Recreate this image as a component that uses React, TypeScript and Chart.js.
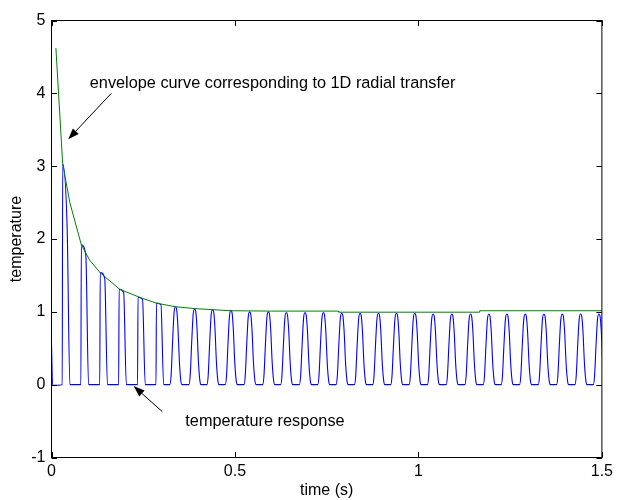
import React, { useEffect, useRef } from "react";
import { Chart, registerables } from "chart.js";

Chart.register(...registerables);

// ---- axes ----
const X_MIN = 0;
const X_MAX = 1.5;
const Y_MIN = -1;
const Y_MAX = 5;
const xTickValues = [0, 0.5, 1, 1.5];
const yTickValues = [-1, 0, 1, 2, 3, 4, 5];

// ---- envelope curve (green) ----
const envelopeTimes = [0.012, 0.0305, 0.05, 0.0813, 0.104, 0.134, 0.186, 0.24, 0.285, 0.338, 0.389, 0.438, 0.489, 0.6, 0.782, 0.783, 1.166, 1.167, 1.5];
const envelopeValues = [4.62, 3.03, 2.5, 1.92, 1.71, 1.53, 1.31, 1.2, 1.12, 1.07, 1.045, 1.03, 1.015, 1.01, 1.01, 0.995, 0.995, 1.015, 1.015];

// ---- temperature response (blue) ----
const startTimes = [0, 0.003];
const startValues = [0.57, -0.01];
// early, sharp pulses
const sharpPeakTimes = [0.0305, 0.0813, 0.1328, 0.1843, 0.2358, 0.286];
const sharpPeakValues = [3.03, 1.92, 1.54, 1.31, 1.2, 1.12];
const sharpTopEndValues = [2.12, 1.77, 1.46, 1.27, 1.17, 1.1];
// later, rounded pulses
const roundPeakTimes = [0.338, 0.39, 0.439, 0.489, 0.54, 0.591, 0.64, 0.691, 0.741, 0.791, 0.841, 0.891, 0.94, 0.99, 1.04, 1.091, 1.142, 1.192, 1.241, 1.291, 1.342, 1.392, 1.442, 1.492];
const roundPeakValues = [1.07, 1.04, 1.03, 1.02, 1.0, 1.0, 0.99, 0.99, 0.99, 0.98, 0.98, 0.98, 0.98, 0.98, 0.97, 0.97, 0.97, 0.97, 0.97, 0.97, 0.97, 0.97, 0.97, 0.97];
// pulse shape templates (time offset from peak, fraction)
const sharpOffsets = [-0.0013, 0, 0.0123, 0.0197];
const roundOffsets = [-0.0155, -0.012, -0.008, -0.004, 0, 0.003, 0.0065, 0.0105, 0.0145, 0.0175];
const roundFractions = [0, 0.12, 0.55, 0.92, 1, 0.97, 0.75, 0.3, 0.05, 0];

const FONT = '"Liberation Sans", Arial, Helvetica, sans-serif';

function buildResponse() {
  const pts: { x: number; y: number }[] = [];
  startTimes.forEach((t, i) => pts.push({ x: t, y: startValues[i] }));
  sharpPeakTimes.forEach((t, i) => {
    const vals = [0, sharpPeakValues[i], sharpTopEndValues[i], 0];
    sharpOffsets.forEach((o, j) => pts.push({ x: t + o, y: vals[j] }));
  });
  roundPeakTimes.forEach((t, i) => {
    roundOffsets.forEach((o, j) => pts.push({ x: t + o, y: roundFractions[j] * roundPeakValues[i] }));
  });
  return pts;
}

const envelopeData = envelopeTimes.map((t, i) => ({ x: t, y: envelopeValues[i] }));

// annotation layout (data coordinates)
const annotations = [
  { text: "envelope curve corresponding to 1D radial transfer", x: 0.1044, y: 4.14, tail: [0.163, 4.0], tip: [0.0456, 3.37] },
  { text: "temperature response", x: 0.3647, y: -0.5, tail: [0.302, -0.37], tip: [0.224, -0.02] },
];

const framePlugin = {
  id: "framePlugin",
  afterDatasetsDraw(chart: any) {
    const { ctx, chartArea } = chart;
    const xs = chart.scales.x;
    const ys = chart.scales.y;
    const { left, right, top, bottom } = chartArea;
    ctx.save();
    ctx.strokeStyle = "#000";
    ctx.lineWidth = 1;
    ctx.strokeRect(left, top, right - left, bottom - top);
    const tl = 5.5;
    ctx.beginPath();
    xTickValues.forEach((v) => {
      const px = Math.round(xs.getPixelForValue(v)) + 0.5;
      ctx.moveTo(px, bottom);
      ctx.lineTo(px, bottom - tl);
      ctx.moveTo(px, top);
      ctx.lineTo(px, top + tl);
    });
    yTickValues.forEach((v) => {
      const py = Math.round(ys.getPixelForValue(v)) + 0.5;
      ctx.moveTo(left, py);
      ctx.lineTo(left + tl, py);
      ctx.moveTo(right, py);
      ctx.lineTo(right - tl, py);
    });
    ctx.stroke();

    ctx.fillStyle = "#000";
    ctx.font = `16.3px ${FONT}`;
    ctx.textAlign = "left";
    ctx.textBaseline = "middle";
    annotations.forEach((a) => {
      ctx.fillText(a.text, xs.getPixelForValue(a.x), ys.getPixelForValue(a.y));
      const tx = xs.getPixelForValue(a.tail[0]);
      const ty = ys.getPixelForValue(a.tail[1]);
      const hx = xs.getPixelForValue(a.tip[0]);
      const hy = ys.getPixelForValue(a.tip[1]);
      const ang = Math.atan2(hy - ty, hx - tx);
      const len = 11;
      const hw = 4;
      const bx = hx - len * Math.cos(ang);
      const by = hy - len * Math.sin(ang);
      ctx.beginPath();
      ctx.moveTo(tx, ty);
      ctx.lineTo(bx, by);
      ctx.stroke();
      ctx.beginPath();
      ctx.moveTo(hx, hy);
      ctx.lineTo(bx + hw * Math.sin(ang), by - hw * Math.cos(ang));
      ctx.lineTo(bx - hw * Math.sin(ang), by + hw * Math.cos(ang));
      ctx.closePath();
      ctx.fill();
    });
    ctx.restore();
  },
};

export default function App() {
  const ref = useRef<HTMLCanvasElement | null>(null);
  useEffect(() => {
    if (!ref.current) return;
    const font = { family: FONT, size: 16 };
    const chart = new Chart(ref.current, {
      type: "line",
      data: {
        datasets: [
          {
            label: "envelope",
            data: envelopeData,
            borderColor: "#008000",
            borderWidth: 1,
            pointRadius: 0,
            fill: false,
            tension: 0,
          },
          {
            label: "temperature",
            data: buildResponse(),
            borderColor: "#0000ff",
            borderWidth: 1.1,
            pointRadius: 0,
            fill: false,
            cubicInterpolationMode: "monotone",
          },
        ],
      },
      options: {
        animation: false,
        responsive: false,
        devicePixelRatio: 1,
        parsing: false,
        layout: { padding: { top: 20.5, right: 12.5, left: 0, bottom: 0 } },
        plugins: { legend: { display: false }, tooltip: { enabled: false } },
        scales: {
          x: {
            type: "linear",
            min: X_MIN,
            max: X_MAX,
            ticks: {
              stepSize: 0.5,
              autoSkip: false,
              maxRotation: 0,
              font,
              color: "#000",
              padding: 4,
              callback: (v: any) => String(Number(v)),
            },
            grid: { display: false, drawTicks: false },
            border: { display: false },
            title: { display: true, text: "time (s)", font, color: "#000", padding: { top: 0, bottom: 0 } },
            afterFit: (s: any) => {
              s.height = 42.5;
            },
          },
          y: {
            type: "linear",
            min: Y_MIN,
            max: Y_MAX,
            ticks: { stepSize: 1, autoSkip: false, font, color: "#000", padding: 6, callback: (v: any) => String(Number(v)) },
            grid: { display: false, drawTicks: false },
            border: { display: false },
            title: { display: true, text: "temperature", font, color: "#000", padding: { top: 7, bottom: 0 } },
            afterFit: (s: any) => {
              s.width = 51.5;
            },
          },
        },
      },
      plugins: [framePlugin],
    } as any);
    return () => chart.destroy();
  }, []);
  return (
    <div style={{ position: "absolute", left: 0, top: 0, width: 617, height: 500, background: "#fff" }}>
      <canvas ref={ref} width={617} height={500} style={{ width: 617, height: 500 }} />
    </div>
  );
}
